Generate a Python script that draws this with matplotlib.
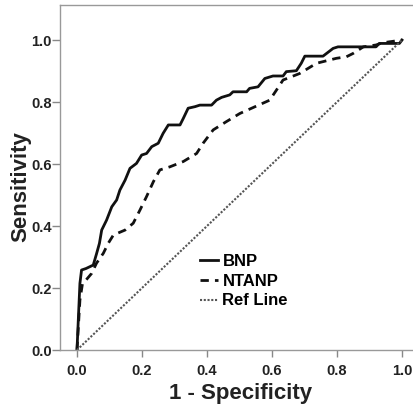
import matplotlib
matplotlib.use("Agg")
import matplotlib.pyplot as plt

# ROC curve points (1 - specificity, sensitivity)
bnp_fpr = [0.0, 0.004, 0.009, 0.014, 0.028, 0.05, 0.06, 0.069, 0.076, 0.091, 0.107,
           0.122, 0.132, 0.148, 0.163, 0.183, 0.199, 0.214, 0.230, 0.25, 0.265, 0.281,
           0.317, 0.327, 0.342, 0.363, 0.378, 0.414, 0.429, 0.445, 0.470, 0.480, 0.522,
           0.531, 0.557, 0.578, 0.603, 0.634, 0.644, 0.675, 0.690, 0.701, 0.757, 0.788,
           0.803, 0.920, 0.930, 0.992, 1.0]
bnp_tpr = [0.0, 0.097, 0.215, 0.258, 0.263, 0.274, 0.31, 0.344, 0.387, 0.419, 0.462,
           0.484, 0.516, 0.548, 0.586, 0.602, 0.629, 0.634, 0.656, 0.667, 0.699, 0.726,
           0.726, 0.747, 0.780, 0.785, 0.790, 0.790, 0.806, 0.815, 0.823, 0.833, 0.833,
           0.844, 0.849, 0.876, 0.884, 0.884, 0.898, 0.901, 0.925, 0.948, 0.948, 0.973,
           0.978, 0.978, 0.989, 0.989, 1.0]

ntanp_fpr = [0.0, 0.009, 0.017, 0.028, 0.045, 0.06, 0.081, 0.096, 0.112, 0.148, 0.173,
             0.194, 0.214, 0.235, 0.255, 0.286, 0.327, 0.368, 0.388, 0.419, 0.460, 0.501,
             0.548, 0.593, 0.614, 0.634, 0.685, 0.737, 0.798, 0.829, 0.85, 0.881, 0.920,
             0.940, 1.0]
ntanp_tpr = [0.0, 0.161, 0.215, 0.226, 0.247, 0.28, 0.312, 0.344, 0.371, 0.387, 0.409,
             0.452, 0.495, 0.543, 0.581, 0.591, 0.608, 0.634, 0.667, 0.710, 0.737, 0.763,
             0.785, 0.806, 0.839, 0.871, 0.892, 0.925, 0.941, 0.946, 0.957, 0.978, 0.984,
             0.991, 1.0]

ref_x = [0.0, 1.0]
ref_y = [0.0, 1.0]

ticks = [0.0, 0.2, 0.4, 0.6, 0.8, 1.0]

plt.rcParams['font.family'] = ['Liberation Sans', 'DejaVu Sans']
plt.rcParams['font.weight'] = 'bold'

W, H = 413, 404
fig = plt.figure(figsize=(W / 100, H / 100), dpi=100)
ax = fig.add_axes([60 / W, (H - 350) / H, 361.5 / W, 345 / H])

ax.plot(bnp_fpr, bnp_tpr, color='#111111', lw=2.0, ls='-', label='BNP')
ax.plot(ntanp_fpr, ntanp_tpr, color='#111111', lw=2.0, ls=(0, (3, 2.2)), label='NTANP')
ax.plot(ref_x, ref_y, color='#555555', lw=1.5, ls=(0, (1, 0.8)), label='Ref Line')

ax.set_xlim(-0.0523, 1.06)
ax.set_ylim(0, 1.113)
ax.set_xticks(ticks)
ax.set_yticks(ticks)
ax.set_xticklabels([f"{t:.1f}" for t in ticks], fontsize=10.5, fontweight='bold', color='#222222')
ax.set_yticklabels([f"{t:.1f}" for t in ticks], fontsize=10.5, fontweight='bold', color='#222222')
ax.tick_params(axis='both', direction='out', length=5, width=1, color='#888888')
ax.tick_params(axis='y', length=6, pad=0)
ax.tick_params(axis='x', pad=5)

for sp in ax.spines.values():
    sp.set_color('#999999')
    sp.set_linewidth(1)

ax.set_xlabel('1 - Specificity', fontsize=16, fontweight='bold', color='#222222', labelpad=4)
ax.set_ylabel('Sensitivity', fontsize=16, fontweight='bold', color='#222222', labelpad=2)
ax.yaxis.set_label_coords(-0.08, 0.475)

ax.legend(loc='upper left', bbox_to_anchor=(200 / W, 1 - 254 / H), bbox_transform=fig.transFigure,
          frameon=False, borderpad=0, borderaxespad=0, handlelength=1.1, handletextpad=0.25,
          labelspacing=0.28, prop={'size': 12, 'weight': 'bold'})

fig.savefig('out.png', dpi=100)
